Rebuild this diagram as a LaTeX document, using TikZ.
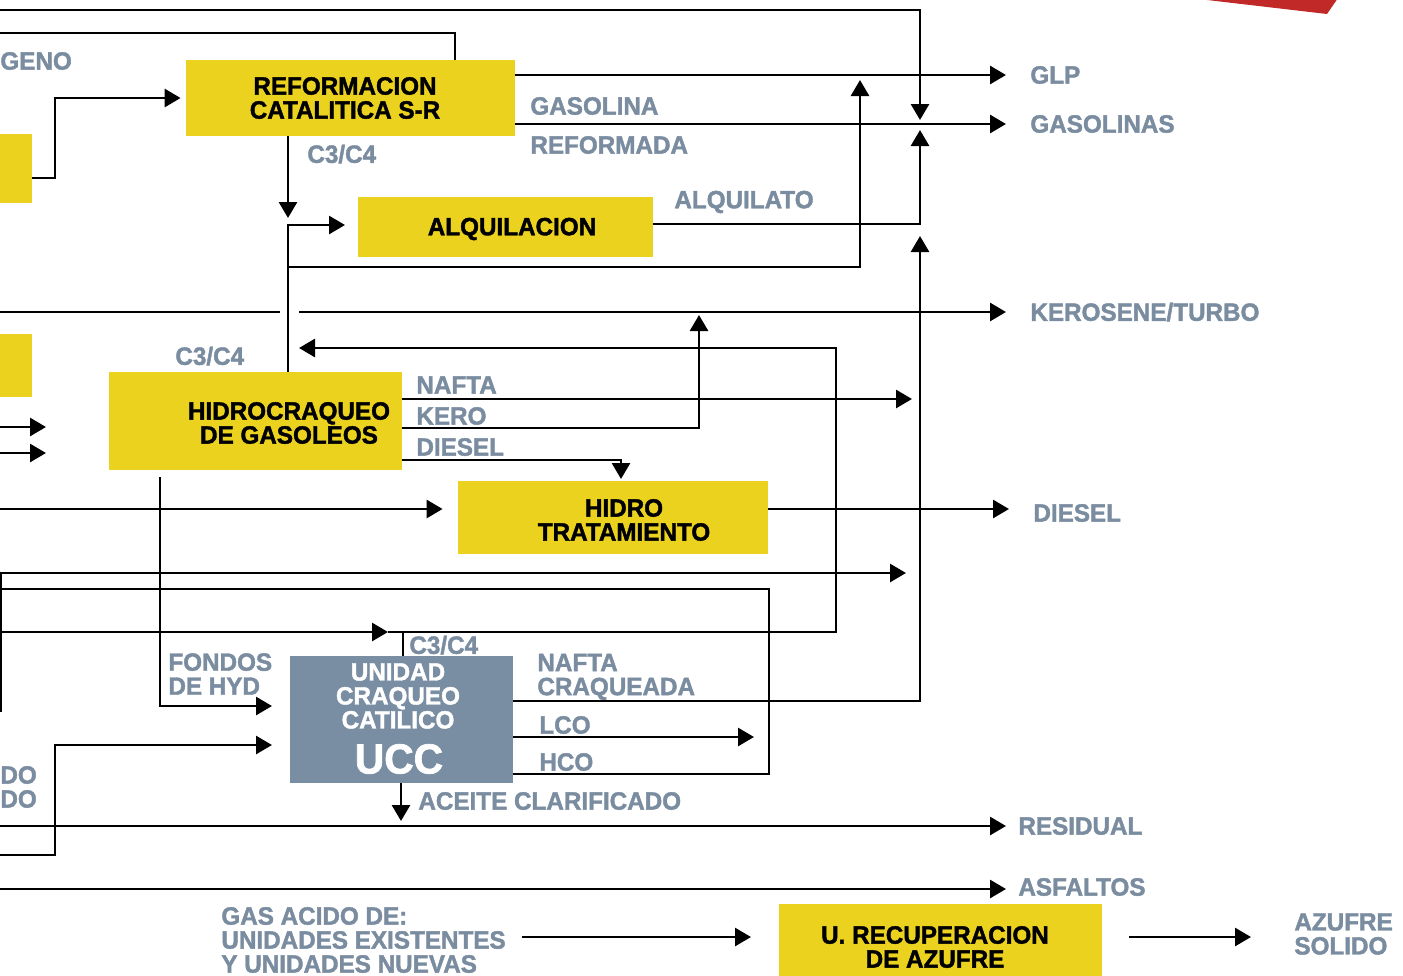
\documentclass[tikz,border=0pt]{standalone}
\usepackage{fontspec}
\setmainfont{Liberation Sans}[FakeStretch=0.97, BoldFeatures={FakeBold=1.6}]
\usetikzlibrary{arrows.meta,fit}
\definecolor{yel}{RGB}{235,210,30}
\definecolor{gbx}{RGB}{122,142,163}
\definecolor{gtx}{RGB}{122,140,160}
\definecolor{redc}{RGB}{192,41,40}
\tikzset{
  ybox/.style={fill=yel, inner sep=0pt, draw=none},
  gbox/.style={fill=gbx, inner sep=0pt, draw=none},
  btxt/.style={inner sep=0pt, align=center, font=\bfseries\fontsize{12.5}{12}\selectfont, text=black},
  wtxt/.style={inner sep=0pt, align=center, font=\bfseries\fontsize{12.5}{12}\selectfont, text=white},
  lbl/.style={inner sep=0pt, anchor=west, align=left, font=\bfseries\fontsize{12.5}{12}\selectfont, text=gtx},
  ln/.style={line width=1.4pt, black},
  arr/.style={ln, -{Triangle[length=8pt,width=9pt]}},
}
\begin{document}
\begin{tikzpicture}[x=0.5pt,y=-0.5pt]
\useasboundingbox (0,0) rectangle (1403,975);
\fill[white] (0,0) rectangle (1403,975);
\clip (0,0) rectangle (1403,975);

% red corner shape
\fill[redc] (1190,-2) -- (1338,-2) -- (1327,14) -- cycle;

% boxes
\node[ybox, fit={(0,134)(32,203)}] (lb1) {};
\node[ybox, fit={(186,60)(515,136)}] (ref) {};
\node[ybox, fit={(358,197)(653,257)}] (alq) {};
\node[ybox, fit={(0,334)(32,397)}] (lb2) {};
\node[ybox, fit={(109,372)(402,470)}] (hcg) {};
\node[ybox, fit={(458,481)(768,554)}] (htr) {};
\node[gbox, fit={(290,656)(513,783)}] (ucc) {};
\node[ybox, fit={(779,904)(1102,980)}] (ura) {};

% box texts
\node[btxt] (refT) at (345,98) {REFORMACION\\CATALITICA S-R};
\node[btxt] (alqT) at (512,229) {ALQUILACION};
\node[btxt] (hcgT) at (289,423) {HIDROCRAQUEO\\DE GASOLEOS};
\node[btxt] (htrT) at (624,520) {HIDRO\\TRATAMIENTO};
\node[wtxt] (uccT) at (398,696) {UNIDAD\\CRAQUEO\\CATILICO};
\node[wtxt, font=\bfseries\fontsize{21}{21}\selectfont] (uccB) at (399,759) {UCC};
\node[btxt] (uraT) at (935,947) {U. RECUPERACION\\DE AZUFRE};

% labels
\node[lbl] (geno) at (0,61) {GENO};
\node[lbl] (c34a) at (307,154) {C3/C4};
\node[lbl] (gsln) at (530,106) {GASOLINA};
\node[lbl] (rfmd) at (530,145) {REFORMADA};
\node[lbl] (alqt) at (674,202) {ALQUILATO};
\node[lbl] (glp) at (1030,75) {GLP};
\node[lbl] (gas) at (1030,124) {GASOLINAS};
\node[lbl] (ker) at (1030,312) {KEROSENE/TURBO};
\node[lbl] (c34b) at (175,356) {C3/C4};
\node[lbl] (naf) at (416,385) {NAFTA};
\node[lbl] (kero) at (416,416) {KERO};
\node[lbl] (dsl) at (416,447) {DIESEL};
\node[lbl] (dslo) at (1033,513) {DIESEL};
\node[lbl] (c34c) at (409,645) {C3/C4};
\node[lbl] (fnd) at (168,674) {FONDOS\\DE HYD};
\node[lbl] (nfc) at (537,677) {NAFTA\\CRAQUEADA};
\node[lbl] (lco) at (539,725) {LCO};
\node[lbl] (hco) at (539,762) {HCO};
\node[lbl] (acl) at (418,801) {ACEITE CLARIFICADO};
\node[lbl] (dodo) at (0,787) {DO\\DO};
\node[lbl] (res) at (1018,826) {RESIDUAL};
\node[lbl] (asf) at (1018,887) {ASFALTOS};
\node[lbl] (gac) at (221,940) {GAS ACIDO DE:\\UNIDADES EXISTENTES\\Y UNIDADES NUEVAS};
\node[lbl] (azs) at (1294,934) {AZUFRE\\SOLIDO};

% free ends at the left edge
\coordinate (w1) at (0,10);
\coordinate (w2) at (0,33);
\coordinate (w3) at (0,312);
\coordinate (w4) at (0,427);
\coordinate (w5) at (0,453);
\coordinate (w6) at (0,509);
\coordinate (w7) at (1,712);
\coordinate (w8) at (0,589);
\coordinate (w9) at (0,632);
\coordinate (w10) at (0,855);
\coordinate (w11) at (0,826);
\coordinate (w12) at (0,889);

% connectors
\draw[arr] (w1) -| (920,120);
\draw[ln] (w2) -| (ref.north -| 455,0);
\draw[arr, shorten >=2.5pt] (lb1.east |- 0,178) -- (55,178) |- (ref.west);
\draw[arr] (ref.east |- glp.west) -- ([xshift=-12pt]glp.west);
\draw[arr] (ref.east |- gas.west) -- ([xshift=-12pt]gas.west);
\draw[arr] (ref.south -| 288,0) -- (288,218);
\draw[arr] (hcg.north -| 288,0) -- (288,225) -- (345,225);
\draw[arr] (288,267) -| (860,80);
\draw[arr] (alq.east |- 0,224) -| (920,130);
\draw[ln] (w3) -- (280,312);
\draw[arr] (299,312) -- ([xshift=-12pt]ker.west);
\draw[arr] (w4) -- (46,427);
\draw[arr] (w5) -- (46,453);
\draw[arr] (hcg.east |- 0,399) -- (912,399);
\draw[arr] (hcg.east |- 0,428) -| (699,315);
\draw[arr] (hcg.east |- 0,460) -| (621,479);
\draw[arr] (w6) -- ([xshift=-7.5pt]htr.west |- 0,509);
\draw[arr] (htr.east |- 0,509) -- ([xshift=-12pt]dslo.west |- 0,509);
\draw[ln] (ucc.north -| 403,0) -- (403,632);
\draw[arr] (w9) -- (388,632);
\draw[arr] (388,632) -| (836,348) -- (299,348);
\draw[arr] (w7) |- (906,573);
\draw[ln] (ucc.east |- 0,774) -| (769,589) -- (w8);
\draw[arr] (ucc.east |- 0,737) -- (754,737);
\draw[arr] (ucc.east |- 0,701) -| (920,236);
\draw[arr] (160,477) |- (272,706);
\draw[arr] (w10) -| (55,745) -- (272,745);
\draw[arr] (ucc.south -| 401,0) -- (401,821);
\draw[arr] (w11) -- ([xshift=-6pt]res.west);
\draw[arr] (w12) -- ([xshift=-6pt]asf.west |- 0,889);
\draw[arr] (522,937) -- (751,937);
\draw[arr] (1129,937) -- (1251,937);
\end{tikzpicture}
\end{document}
